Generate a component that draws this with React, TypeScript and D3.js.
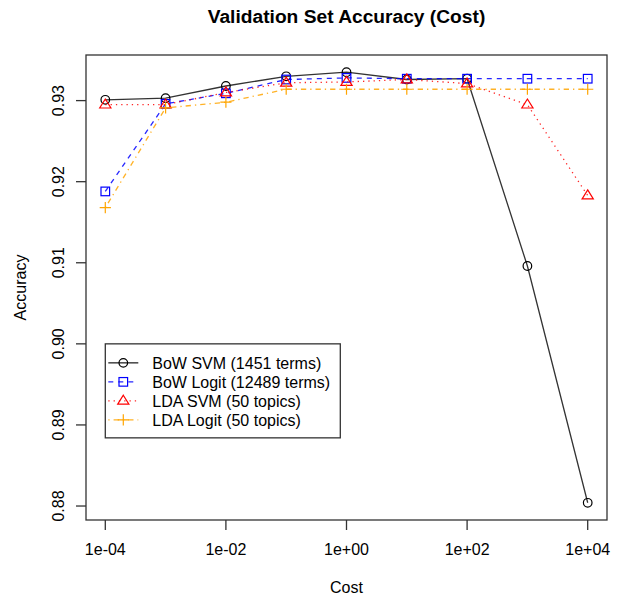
import React from 'react';
import * as d3 from 'd3';

const cost = [1e-4, 1e-3, 1e-2, 1e-1, 1e0, 1e1, 1e2, 1e3, 1e4];
const bowSvm = [0.9301, 0.9303, 0.9318, 0.9330, 0.9335, 0.9326, 0.9327, 0.9096, 0.8804];
const bowLogit = [0.9188, 0.9296, 0.9309, 0.9326, 0.9328, 0.9327, 0.9327, 0.9327, 0.9327];
const ldaSvm = [0.9295, 0.9295, 0.9310, 0.9322, 0.9323, 0.9326, 0.9321, 0.9295, 0.9183];
const ldaLogit = [0.9168, 0.9291, 0.9298, 0.9314, 0.9314, 0.9314, 0.9314, 0.9314, 0.9314];

const xTicks = [1e-4, 1e-2, 1e0, 1e2, 1e4];
const xTickLabels = ['1e-04', '1e-02', '1e+00', '1e+02', '1e+04'];
const yTicks = [0.88, 0.89, 0.90, 0.91, 0.92, 0.93];
const yTickLabels = ['0.88', '0.89', '0.90', '0.91', '0.92', '0.93'];

const seriesNames = ['BoW SVM (1451 terms)', 'BoW Logit (12489 terms)', 'LDA SVM (50 topics)', 'LDA Logit (50 topics)'];
const seriesColors = ['#000000', '#0000ff', '#ff0000', '#ffa500'];
const seriesDash = ['none', '5,5', '1.3,4', '1.3,4,5.3,4'];
const seriesShapes = ['circle', 'square', 'triangle', 'plus'];
const seriesValues = [bowSvm, bowLogit, ldaSvm, ldaLogit];

// legend anchor (top-left corner in data units, like R's legend(x, y))
const legendX = 1e-4;
const legendY = 0.90;

const W = 621, H = 597;
const plot = { left: 86, right: 607, top: 55, bottom: 520 };
const font = '"Liberation Sans", Arial, Helvetica, sans-serif';

const Marker = ({ shape, x, y, color }: { shape: string; x: number; y: number; color: string }) => {
    const s = 4.3;
    if (shape === 'circle') return <circle cx={x} cy={y} r={s} fill="none" stroke={color} strokeWidth={1.2} />;
    if (shape === 'square') return <rect x={x - s} y={y - s} width={2 * s} height={2 * s} fill="none" stroke={color} strokeWidth={1.2} />;
    if (shape === 'triangle') {
        const t = 5.6;
        return <path d={`M${x},${y - t} L${x + t},${y + t * 0.6} L${x - t},${y + t * 0.6} Z`} fill="none" stroke={color} strokeWidth={1.2} />;
    }
    const p = 5.6;
    return <path d={`M${x - p},${y} H${x + p} M${x},${y - p} V${y + p}`} stroke={color} strokeWidth={1.2} />;
};

const App = () => {
    const lx = Math.log10(d3.min(cost)!), hx = Math.log10(d3.max(cost)!);
    const padX = (hx - lx) * 0.04;
    const x = d3.scaleLog()
        .domain([Math.pow(10, lx - padX), Math.pow(10, hx + padX)])
        .range([plot.left, plot.right]);

    const all = seriesValues.flat();
    const lo = d3.min(all)!, hi = d3.max(all)!;
    const padY = (hi - lo) * 0.04;
    const y = d3.scaleLinear()
        .domain([lo - padY, hi + padY])
        .range([plot.bottom, plot.top]);

    const line = d3.line<number>()
        .x((_, i) => x(cost[i]))
        .y(d => y(d));

    const legLeft = x(legendX);
    const legTop = y(legendY);
    const rowH = 19;
    const legW = 235;
    const legH = 94;

    return (
        <svg width={W} height={H} style={{ position: 'absolute', left: 0, top: 0, background: '#fff' }}>
            <text x={(plot.left + plot.right) / 2} y={23} textAnchor="middle" fontFamily={font}
                fontWeight="bold" fontSize={19.2}>Validation Set Accuracy (Cost)</text>

            {seriesValues.map((vals, i) => (
                <g key={i}>
                    <path d={line(vals)!} fill="none" stroke={seriesColors[i]} strokeWidth={1.3}
                        strokeDasharray={seriesDash[i]} opacity={i === 0 ? 0.8 : 0.85} />
                    {vals.map((v, j) => (
                        <Marker key={j} shape={seriesShapes[i]} x={x(cost[j])} y={y(v)} color={seriesColors[i]} />
                    ))}
                </g>
            ))}

            <rect x={plot.left} y={plot.top} width={plot.right - plot.left} height={plot.bottom - plot.top}
                fill="none" stroke="#333" strokeWidth={1.3} />

            {xTicks.map((t, i) => (
                <g key={i}>
                    <line x1={x(t)} x2={x(t)} y1={plot.bottom} y2={plot.bottom + 10} stroke="#333" strokeWidth={1.3} />
                    <text x={x(t)} y={555} textAnchor="middle" fontFamily={font} fontSize={16}>{xTickLabels[i]}</text>
                </g>
            ))}
            {yTicks.map((t, i) => (
                <g key={i}>
                    <line x1={plot.left - 10} x2={plot.left} y1={y(t)} y2={y(t)} stroke="#333" strokeWidth={1.3} />
                    <text transform={`translate(64,${y(t)}) rotate(-90)`} textAnchor="middle"
                        fontFamily={font} fontSize={16}>{yTickLabels[i]}</text>
                </g>
            ))}

            <text x={(plot.left + plot.right) / 2} y={593} textAnchor="middle" fontFamily={font} fontSize={16}>Cost</text>
            <text transform={`translate(26,${(plot.top + plot.bottom) / 2}) rotate(-90)`} textAnchor="middle"
                fontFamily={font} fontSize={16}>Accuracy</text>

            <g>
                <rect x={legLeft} y={legTop} width={legW} height={legH} fill="#fff" stroke="#333" strokeWidth={1.3} />
                {seriesNames.map((name, i) => {
                    const ry = legTop + rowH * (i + 1);
                    return (
                        <g key={i}>
                            <line x1={legLeft + 3} x2={legLeft + 33} y1={ry} y2={ry} stroke={seriesColors[i]}
                                strokeWidth={1.3} strokeDasharray={seriesDash[i]} opacity={0.85} />
                            <Marker shape={seriesShapes[i]} x={legLeft + 18} y={ry} color={seriesColors[i]} />
                            <text x={legLeft + 47} y={ry + 6} fontFamily={font} fontSize={16}>{name}</text>
                        </g>
                    );
                })}
            </g>
        </svg>
    );
};

export default App;
